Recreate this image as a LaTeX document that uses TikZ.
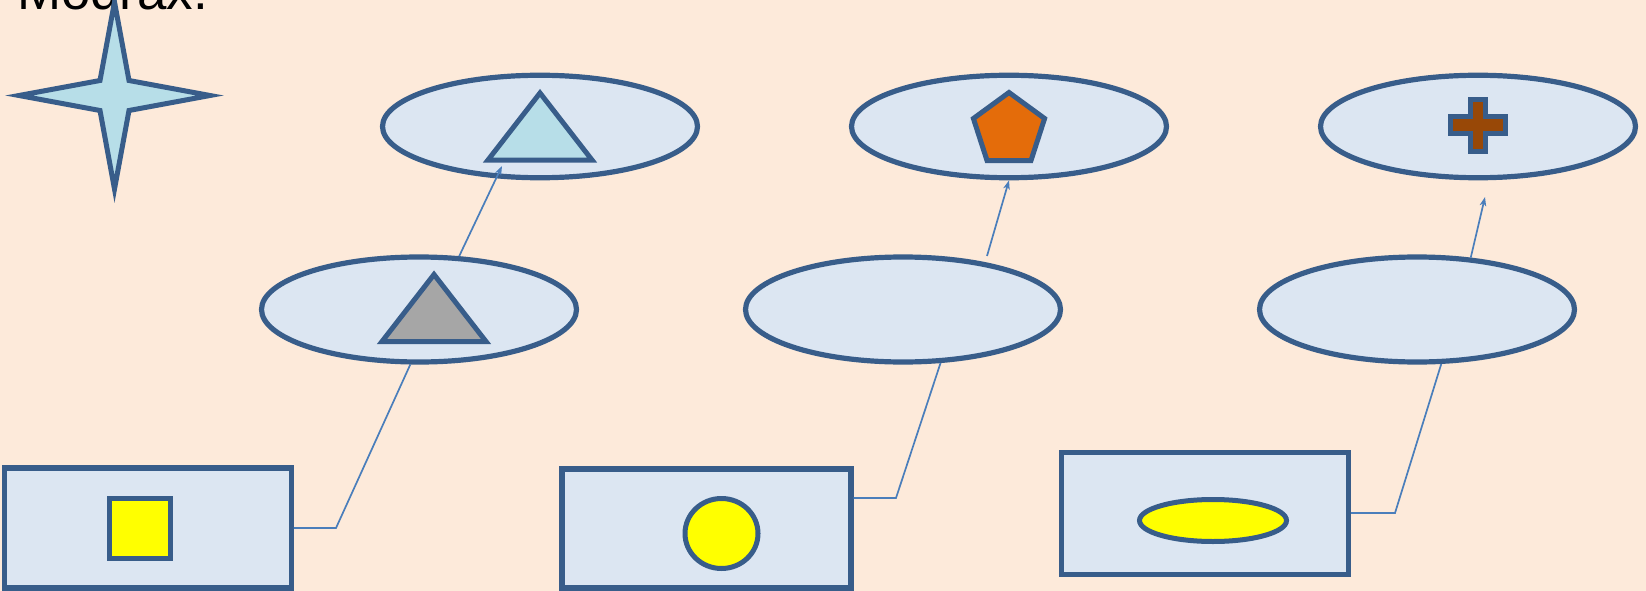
\documentclass[tikz,border=0pt]{standalone}
\usepackage{fontspec}
\setmainfont{Liberation Sans}
\usetikzlibrary{shapes.geometric,arrows.meta}
\definecolor{bgcol}{HTML}{FDEADA}
\definecolor{strokecol}{HTML}{385D8A}
\definecolor{fillcol}{HTML}{DCE6F2}
\definecolor{conncol}{HTML}{4A7EBB}
\definecolor{tealcol}{HTML}{B7DEE8}
\definecolor{graycol}{HTML}{A6A6A6}
\definecolor{orangecol}{HTML}{E46C0A}
\definecolor{browncol}{HTML}{984807}
\definecolor{yellowcol}{HTML}{FFFF00}
\begin{document}
\begin{tikzpicture}[x=1pt,y=-1pt,
  ell/.style={ellipse,draw=strokecol,fill=fillcol,line width=5.2pt,minimum width=315pt,minimum height=102.5pt,inner sep=0pt},
  box/.style={rectangle,draw=strokecol,fill=fillcol,line width=5.2pt,minimum width=287pt,minimum height=120pt,inner sep=0pt},
  conn/.style={draw=conncol,line width=1.7pt},
  arr/.style={conn,-{Stealth[length=9pt,width=6.5pt,inset=2.5pt]}},
  shp/.style={draw=strokecol,line width=5pt,line join=miter}]
\fill[bgcol] (0,0) rectangle (1646,591);
\useasboundingbox (0,0) rectangle (1646,591);

% title
\node[anchor=base west,inner sep=0pt,font=\fontsize{52.9}{62}\selectfont] (title) at (16.8,9.3) {Modrax.};

% star
\draw[shp,fill=tealcol] (114.5,2) -- (129,80.5) -- (210,95.5) -- (129,110.5) -- (114.5,189) -- (100,110.5) -- (19,95.5) -- (100,80.5) -- cycle;

% ellipses
\node[ell] (t1) at (540,126.5) {};
\node[ell] (t2) at (1009,126.5) {};
\node[ell] (t3) at (1478,126.5) {};
\node[ell,minimum height=105pt] (e1) at (419,309.5) {};
\node[ell,minimum height=105pt] (e2) at (903,309.5) {};
\node[ell,minimum height=105pt] (e3) at (1417,309.5) {};

% boxes
\node[box] (r1) at (147.7,528) {};
\node[box,minimum width=289pt,minimum height=119pt] (r2) at (706.5,528.5) {};
\node[box,minimum height=122pt] (r3) at (1205,513.5) {};

% inner shapes
\draw[shp,fill=tealcol] (540,93) -- (592,160) -- (488,160) -- cycle;
\draw[shp,fill=graycol] (434,274.5) -- (486,341.5) -- (382,341.5) -- cycle;
\draw[shp,fill=orangecol] (1009,92.5) -- (1044.6,118.5) -- (1031,160.5) -- (987,160.5) -- (973.4,118.5) -- cycle;
\draw[shp,fill=browncol] (1470.5,99.5) -- (1485.5,99.5) -- (1485.5,116.5) -- (1505.5,116.5) -- (1505.5,133.5) -- (1485.5,133.5) -- (1485.5,151.5) -- (1470.5,151.5) -- (1470.5,133.5) -- (1450.5,133.5) -- (1450.5,116.5) -- (1470.5,116.5) -- cycle;
\draw[shp,fill=yellowcol] (109,498.5) rectangle (170,558.5);
\draw[shp,fill=yellowcol] (721.5,533.5) ellipse [x radius=36.5pt,y radius=35pt];
\draw[shp,fill=yellowcol] (1213,520.5) ellipse [x radius=73.5pt,y radius=21pt];

% connectors
\coordinate (b1) at (336,528);
\coordinate (b2) at (896,498);
\coordinate (b3) at (1395,513);
\draw[conn] (r1.east |- b1) -- (b1) -- (e1.-99.5);
\draw[conn] (r2.east |- b2) -- (b2) -- (e2.-55);
\draw[conn] (r3.east |- b3) -- (b3) -- (e3.-66.7);

% arrows
\coordinate (a1) at (502,166);
\coordinate (a2) at (987,256);
\coordinate (a3) at (1485,197);
\draw[arr] (e1.53.8) -- (a1);
\draw[arr] (a2) -- (t2.south);
\draw[arr] (e3.44.2) -- (a3);
\end{tikzpicture}
\end{document}
